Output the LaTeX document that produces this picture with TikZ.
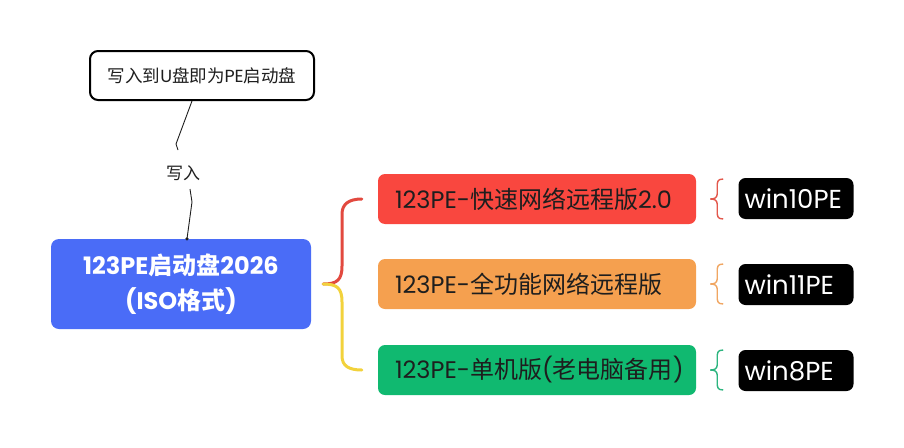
\documentclass[tikz,border=0pt]{standalone}
\usepackage{fontspec}
\setmainfont{Poppins}
\newfontfamily\cjk{Noto Sans CJK SC}
\definecolor{pblue}{HTML}{4A6CF7}
\definecolor{pred}{HTML}{F9473F}
\definecolor{porange}{HTML}{F5A04F}
\definecolor{pgreen}{HTML}{10B970}
\definecolor{bred}{HTML}{E2493F}
\definecolor{byellow}{HTML}{F2D23C}
\definecolor{sred}{HTML}{E3584C}
\definecolor{sorange}{HTML}{F0A662}
\definecolor{sgreen}{HTML}{2DB57F}
\definecolor{txt}{HTML}{1E1E1E}
\tikzset{
  topbox/.style={draw=black, line width=2pt, fill=white, rounded corners=8pt,
    minimum width=224pt, minimum height=49pt, inner sep=0pt,
    font=\fontsize{17.5}{20}\selectfont, text=txt},
  lblnode/.style={inner sep=1pt, font=\fontsize{17}{20}\selectfont, text=txt},
  mainbox/.style={fill=pblue, rounded corners=8pt, minimum width=260pt,
    minimum height=90pt, inner sep=0pt, align=center, text=white,
    font=\fontsize{24}{35}\selectfont\bfseries},
  verbox/.style={rounded corners=7pt, minimum width=318pt, minimum height=50pt,
    text width=284pt, inner xsep=17pt, inner ysep=0pt, align=left, text=txt,
    font=\fontsize{24}{28}\selectfont},
  winbox/.style={fill=black, rounded corners=7pt, minimum width=115pt,
    minimum height=41pt, text width=103pt, inner xsep=6pt, inner ysep=0pt,
    align=left, text=white, font=\fontsize{26}{30}\selectfont},
  bigbrace/.style={line width=3pt, line cap=round},
  sbr/.pic={
    \draw[line width=1.4pt, pic actions]
      (13,-20) .. controls (7,-20) and (7,-17) .. (7,-12) -- (7,-5)
      .. controls (7,-1) and (4,0) .. (0,0)
      .. controls (4,0) and (7,1) .. (7,5) -- (7,12)
      .. controls (7,17) and (7,20) .. (13,20);
  }
}
\begin{document}
\begin{tikzpicture}[x=1pt, y=-1pt]
\useasboundingbox (0,0) rectangle (904,447);

% top box and connector
\node[topbox] (top) at (202,75.5) {{\cjk 写入到}U{\cjk 盘即为}PE{\cjk 启动盘}};
\node[mainbox] (main) at (181,284) {123PE{\cjk 启动盘}2026\\(ISO{\cjk 格式})};
\node[lblnode] (lbl) at (183,173) {{\cjk 写入}};
\coordinate (t1) at ([xshift=-10pt]top.south);
\coordinate (k1) at (178,150);
\coordinate (k2) at (190,189);
\coordinate (d1) at ([xshift=6pt]main.north);
\draw[line width=0.9pt, txt] (t1) -- (176,144) -- (k1);
\draw[line width=0.9pt, txt] (k2) -- (192,202) -- (d1);
\fill[txt] (d1) circle (1.8pt);

% version boxes
\node[verbox, fill=pred] (red) at (537,199) {\mbox{123PE-{\cjk 快速网络远程版}2.0}};
\node[verbox, fill=porange] (orange) at (537,284) {\mbox{123PE-{\cjk 全功能网络远程版}}};
\node[verbox, fill=pgreen] (green) at (537,370) {\mbox{123PE-{\cjk 单机版}({\cjk 老电脑备用})}};

% big brace
\coordinate (bs) at ([xshift=12pt]main.east);
\coordinate (re) at ([xshift=-16pt]red.west);
\coordinate (ge) at ([xshift=-16pt]green.west);
\draw[bigbrace, bred] (bs) .. controls (337,284) and (342,280) .. (342,266)
  -- (342,214) .. controls (342,204) and (349,199) .. (re);
\draw[bigbrace, byellow] (bs) .. controls (337,284) and (342,288) .. (342,302)
  -- (342,356) .. controls (342,366) and (349,370) .. (ge);

% small braces
\pic[sred] at ([xshift=14pt]red.east) {sbr};
\pic[sorange] at ([xshift=14pt]orange.east) {sbr};
\pic[sgreen] at ([xshift=14pt]green.east) {sbr};

% win boxes
\node[winbox] (w10) at (796,198.5) {win10PE};
\node[winbox] (w11) at (796,284.5) {win11PE};
\node[winbox] (w8) at (796,370.5) {win8PE};
\end{tikzpicture}
\end{document}
